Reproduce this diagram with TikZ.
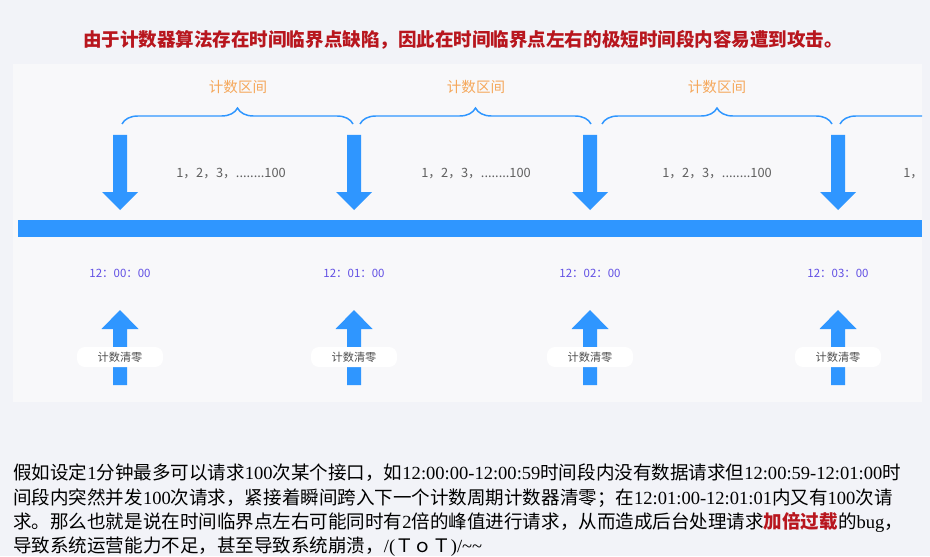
\documentclass[tikz,border=0pt]{standalone}
\usepackage{fontspec}
\setmainfont{Noto Sans CJK SC}
\newfontfamily\latfont[Scale=1.0]{Liberation Serif}
\newcommand\lat[1]{{\latfont #1}}
\usetikzlibrary{decorations.pathreplacing}

\definecolor{pagebg}{RGB}{242,243,248}
\definecolor{panelbg}{RGB}{248,248,250}
\definecolor{barblue}{RGB}{47,150,255}
\definecolor{titlered}{RGB}{184,22,30}
\definecolor{spanorange}{RGB}{245,168,92}
\definecolor{clockpurple}{RGB}{98,80,228}
\definecolor{countgray}{RGB}{95,95,95}
\definecolor{resetgray}{RGB}{80,80,80}

\begin{document}
\begin{tikzpicture}[
  x=0.75pt,y=-0.75pt,
  blockarrow/.style={fill=barblue},
  span/.style={draw=barblue,line width=1.1pt,decorate,
               decoration={brace,amplitude=12pt}},
  spanlabel/.style={font=\fontsize{10.9}{12}\selectfont,text=spanorange},
  count/.style={font=\fontsize{9.6}{12}\selectfont,text=countgray},
  clock/.style={font=\fontsize{8.6}{10}\selectfont,text=clockpurple},
  reset/.style={font=\fontsize{8.4}{10}\selectfont,text=resetgray,fill=white,
                rounded corners=6pt,minimum width=64.5pt,minimum height=15pt,
                inner sep=0pt}
]
\useasboundingbox (0,0) rectangle (930,556);
\fill[pagebg] (0,0) rectangle (930,556);

\node[font=\bfseries\fontsize{13.9}{16}\selectfont,text=titlered] (title) at (463,40)
 {由于计数器算法存在时间临界点缺陷，因此在时间临界点左右的极短时间段内容易遭到攻击。};

% timeline panel
\fill[panelbg] (13,64) rectangle (922,402);
\begin{scope}
\clip (13,64) rectangle (922,402);
\fill[barblue] (18,220) rectangle (922,237);
\foreach \a/\b/\m in {122/353/0,360/591/1,602/832/2,840/1072/3}
  \draw[span] (\a,124) -- (\b,124);
\foreach \x/\m in {238/0,476/1,717/2}
  \node[spanlabel] (span\m) at (\x,87) {计数区间};
\foreach \x/\m in {231/0,476/1,717/2,958/3}
  \node[count] (count\m) at (\x,174) {1，2，3，........100};
\end{scope}

% down and up arrows per minute
\foreach \x/\n in {120/0,354/1,590/2,838/3}{
  \fill[blockarrow] (\x-7,135) -- (\x+7,135) -- (\x+7,192) -- (\x+18,192)
    -- (\x,210) -- (\x-18,192) -- (\x-7,192) -- cycle;
  \node[clock] (clock\n) at (\x,273) {12：0\n：00};
  \fill[blockarrow] (\x,310) -- (\x+18.5,329) -- (\x+7,329) -- (\x+7,385)
    -- (\x-7,385) -- (\x-7,329) -- (\x-18.5,329) -- cycle;
  \node[reset] (reset\n) at (\x,357) {计数清零};
}

\node[anchor=north west,align=left,inner sep=0pt,
      font=\fontsize{13.9}{18.1}\selectfont] (story) at (13,464)
 {假如设定\lat{1}分钟最多可以请求\lat{100}次某个接口，如\lat{12:00:00-12:00:59}时间段内没有数据请求但\lat{12:00:59-12:01:00}时\\
  间段内突然并发\lat{100}次请求，紧接着瞬间跨入下一个计数周期计数器清零；在\lat{12:01:00-12:01:01}内又有\lat{100}次请\\
  求。那么也就是说在时间临界点左右可能同时有\lat{2}倍的峰值进行请求，从而造成后台处理请求{\bfseries\color{titlered}加倍过载}的\lat{bug}，\\
  导致系统运营能力不足，甚至导致系统崩溃，\lat{/(}ＴｏＴ\lat{)/\textasciitilde\textasciitilde}};
\end{tikzpicture}
\end{document}
